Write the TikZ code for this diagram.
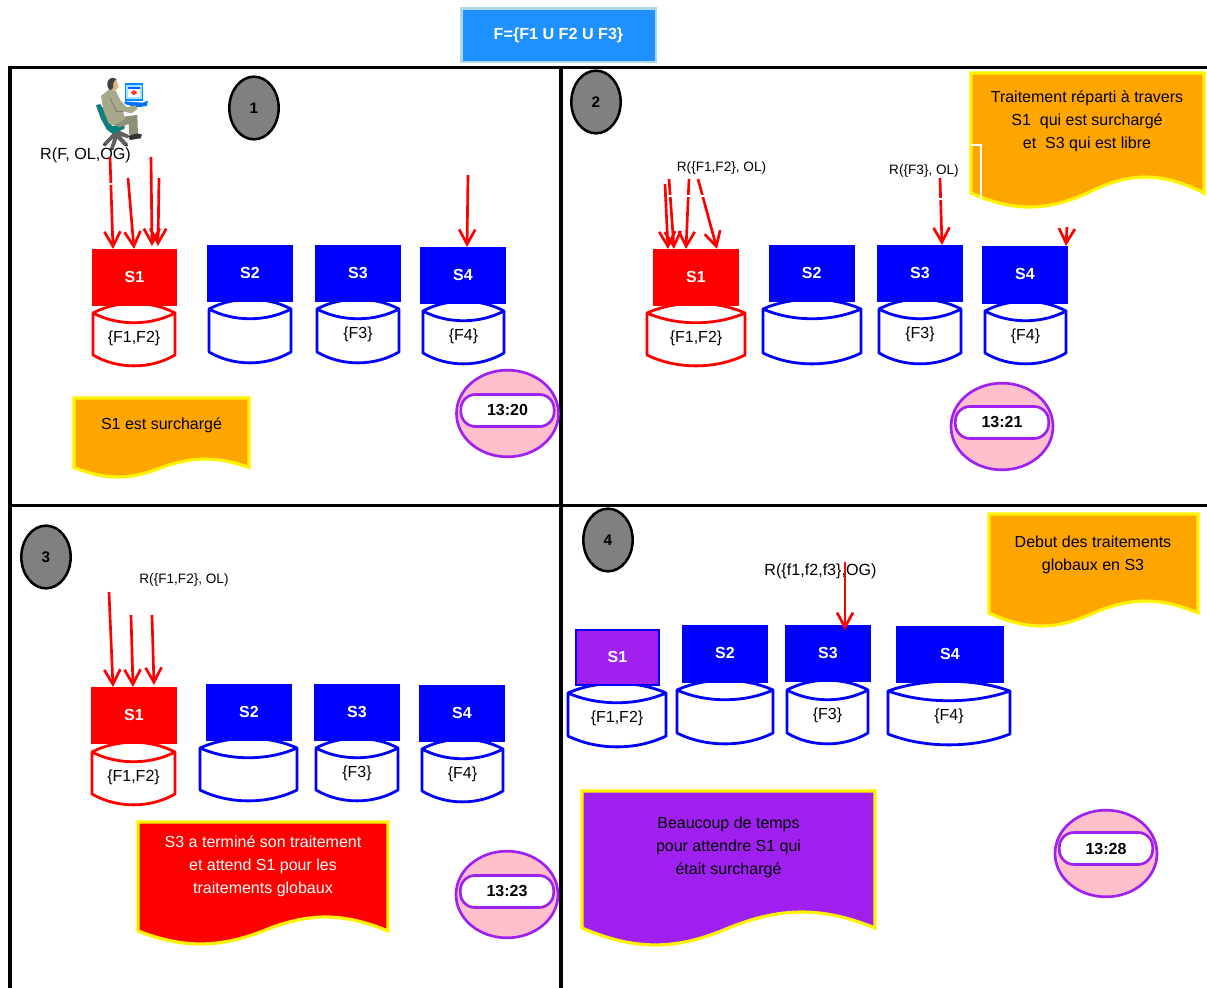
\documentclass[tikz,border=0pt]{standalone}
\usepackage{fontspec}
\setmainfont{Liberation Sans}
\usetikzlibrary{arrows.meta,calc,shapes.geometric}
\definecolor{docorange}{HTML}{FFA500}
\definecolor{docpurple}{HTML}{A020F0}
\definecolor{clockpink}{HTML}{FFC0CB}
\definecolor{topblue}{HTML}{1E90FF}
\definecolor{topedge}{HTML}{ADD8E6}
\definecolor{khaki}{HTML}{A8A88A}
\definecolor{chairteal}{HTML}{0F7F7A}
\tikzset{
  framel/.style={line width=2.3pt,black},
  srvbox/.style={rectangle,inner sep=0pt,outer sep=0pt,text=white,font=\fontsize{12}{14}\selectfont\bfseries},
  cylline/.style={line width=2.1pt,fill=white,line join=round},
  cyltext/.style={inner sep=0pt,font=\fontsize{12}{14}\selectfont},
  redarr/.style={draw=red,line width=2pt,-{Straight Barb[length=11pt,width=12pt,line width=2pt]}},
  docshape/.style={draw=yellow,line width=2.4pt,line join=miter},
  doctext/.style={inner sep=0pt,align=center,font=\fontsize{12}{17.3}\selectfont},
  badge/.style={ellipse,draw=black,fill=gray,line width=1.9pt,inner sep=0pt,outer sep=0pt,font=\fontsize{11.5}{13}\selectfont\bfseries},
  clockface/.style={ellipse,draw=docpurple,fill=clockpink,line width=2pt,inner sep=0pt,outer sep=0pt},
  clockpill/.style={rectangle,rounded corners=11pt,draw=docpurple,fill=white,line width=2pt,inner sep=0pt,outer sep=0pt,font=\fontsize{12}{14}\selectfont\bfseries},
  smalllabel/.style={inner sep=0pt,font=\fontsize{10.2}{12}\selectfont},
  biglabel/.style={inner sep=0pt,font=\fontsize{12.1}{14}\selectfont},
}
% name, x1, y1, x2, y2, fill
\newcommand{\SrvBox}[7][]{%
  \node[srvbox,fill=#7,minimum width={(#5-#3)*0.75pt},minimum height={(#6-#4)*0.75pt},#1] (#2) at ({(#3+#5)/2},{(#4+#6)/2}) {\raisebox{1pt}{\CurLabel}};}
% name, x1, x2, ytop, ybot, colour, text
\newcommand{\CylDraw}[7]{%
  \draw[cylline,draw=#6] (#2,#4)
    .. controls ({#2+0.3*(#3-#2)},{#4+13}) and ({#3-0.3*(#3-#2)},{#4+13}) .. (#3,#4)
    .. controls ({#3-0.3*(#3-#2)},{#4-13}) and ({#2+0.3*(#3-#2)},{#4-13}) .. (#2,#4)
    -- (#2,#5)
    .. controls ({#2+0.3*(#3-#2)},{#5+14.5}) and ({#3-0.3*(#3-#2)},{#5+14.5}) .. (#3,#5)
    -- (#3,#4);
  \node[cyltext] (#1) at ({(#2+#3)/2},{#4+25.5}) {#7};}
% x1, x2, ytop, ybot, trough, crest, fill
\newcommand{\DocDraw}[7]{%
  \draw[docshape,fill=#7] (#1,#3) -- (#2,#3) -- (#2,#4)
    .. controls ({#2-0.18*(#2-#1)},{#4+1.33*(#6-#4)}) and ({#2-0.32*(#2-#1)},{#4+1.33*(#6-#4)}) .. ({(#1+#2)/2},{#4})
    .. controls ({#1+0.32*(#2-#1)},{#4+1.33*(#5-#4)}) and ({#1+0.18*(#2-#1)},{#4+1.33*(#5-#4)}) .. (#1,#4) -- cycle;}
% name, cx, cy, pilly, time
\newcommand{\ClockDraw}[5]{%
  \node[clockface,minimum width=76.5pt,minimum height=65pt] (#1f) at (#2,#3) {};
  \node[clockpill,minimum width=70pt,minimum height=24pt] (#1p) at (#2,#4) {#5};}
\newcommand{\GapMark}[2]{\fill[white] ({#1-4},#2) rectangle ({#1+4},{#2+1.6});}
\begin{document}
\begin{tikzpicture}[x=0.75pt,y=-0.75pt]
\useasboundingbox (0,0) rectangle (1207,988);
\fill[white] (0,0) rectangle (1207,988);

% frame
\draw[framel] (10,988) -- (10,67.5) -- (1207,67.5);
\draw[framel] (561,67.5) -- (561,988);
\draw[framel] (10,505.2) -- (1207,505.2);

% title
\node[rectangle,draw=topedge,fill=topblue,line width=2pt,minimum width=146pt,minimum height=40pt,inner sep=0pt,text=white,font=\fontsize{12.1}{14}\selectfont\bfseries] (title) at (558.5,35.5) {\raisebox{1pt}{F=\{F1 U F2 U F3\}}};

% ---------- panel 1
\node[badge,minimum width=37pt,minimum height=47pt] (b1) at (254,108) {1};
% person
\begin{scope}[shift={(90,70)},x=0.25pt,y=-0.25pt]
  % chair base
  \fill[gray!75!black] (72,186) -- (40,220) -- (46,230) -- (70,204) -- (60,236) -- (70,240) -- (82,206) -- (105,230) -- (114,222) -- (92,198) -- (114,205) -- (116,195) -- (88,182) -- cycle;
  \fill[black!80] (42,224) circle (4) (65,238) circle (4) (110,226) circle (4);
  % chair back and seat
  \fill[chairteal] (18,106) -- (30,102) -- (50,130) -- (66,168) -- (104,162) -- (104,176) -- (68,192) -- (50,178) -- (32,145) -- cycle;
  % screen
  \fill[blue!45!cyan] (104,38) -- (160,38) -- (160,92) -- (104,92) -- cycle;
  \fill[cyan!35] (108,44) -- (155,44) -- (155,87) -- (108,87) -- cycle;
  \fill[white] (113,50) -- (151,50) -- (151,82) -- (113,82) -- cycle;
  \fill[blue!60!cyan] (113,50) -- (151,50) -- (151,58) -- (113,58) -- cycle;
  \fill[red!80] (122,68) -- (132,60) -- (142,68) -- (132,76) -- cycle;
  \fill[blue!55!cyan] (104,94) -- (158,98) -- (174,92) -- (170,108) -- (140,112) -- (104,102) -- cycle;
  % legs and shoe
  \fill[khaki!85!black] (68,160) -- (100,140) -- (142,135) -- (144,196) -- (118,196) -- (116,162) -- (88,172) -- cycle;
  \fill[black!80] (114,198) -- (142,190) -- (156,194) -- (152,205) -- (120,210) -- cycle;
  % torso and arm
  \fill[khaki] (33,78) -- (60,56) -- (78,64) -- (92,92) -- (110,112) -- (136,106) -- (142,118) -- (124,130) -- (100,124) -- (104,148) -- (70,166) -- (56,160) -- (40,120) -- cycle;
  \draw[black!60,line width=0.35pt] (60,85) -- (80,125) -- (100,124);
  % head
  \fill[khaki!50!orange!70!white] (60,42) -- (78,28) -- (86,48) -- (78,62) -- (62,62) -- cycle;
  \fill[black!75] (52,45) .. controls (50,25) and (68,18) .. (80,28) .. controls (70,32) and (68,42) .. (70,52) .. controls (64,66) and (54,60) .. (52,45) -- cycle;
\end{scope}
\node[biglabel] (l1) at (85.5,155) {R(F, OL,OG)};
\CylDraw{p1c1}{93}{175}{313}{355}{red}{\{F1,F2\}}
\CylDraw{p1c2}{209}{291}{309}{352}{blue}{}
\CylDraw{p1c3}{317}{399}{309}{352}{blue}{\{F3\}}
\CylDraw{p1c4}{423}{504}{311}{353}{blue}{\{F4\}}
\def\CurLabel{S1}\SrvBox{p1s1}{92}{249}{177}{305.5}{red}
\def\CurLabel{S2}\SrvBox{p1s2}{207}{245}{293}{302}{blue}
\def\CurLabel{S3}\SrvBox{p1s3}{315}{245}{401}{302}{blue}
\def\CurLabel{S4}\SrvBox{p1s4}{420}{247}{506}{303.5}{blue}
\coordinate (p1a) at (110,157);
\coordinate (p1b) at (128,178);
\coordinate (p1c) at (151,157);
\coordinate (p1d) at (159,178);
\coordinate (p1e) at (468,175);
\draw[redarr] (p1a) -- ($(p1s1.north west)+(21,0)$);
\draw[redarr] (p1b) -- ($(p1s1.north west)+(42,0)$);
\draw[redarr] (p1c) -- ($(p1s1.north west)+(60,-3)$);
\draw[redarr] (p1d) -- ($(p1s1.north west)+(66,-3)$);
\draw[redarr] (p1e) -- ($(p1s4.north west)+(47,0)$);
\GapMark{111}{183}
\DocDraw{74}{249}{398}{467.5}{477}{459}{docorange}
\node[doctext] (t1) at (161.5,425.5) {S1 est surchargé};
\ClockDraw{c1}{507.5}{413.5}{410.5}{\raisebox{1pt}{13:20}}

% ---------- panel 2
\node[badge,minimum width=37pt,minimum height=47pt] (b2) at (596,102) {2};
\DocDraw{971}{1204}{73}{193}{207}{177}{docorange}
\draw[white,line width=1.1pt] (971,145) -- (981,145) -- (981,198);
\node[doctext] (t2) at (1087,121.5) {Traitement réparti à travers\\S1~~qui est surchargé\\et~~S3 qui est libre};
\node[smalllabel] (l2a) at (721.5,168) {R(\{F1,F2\}, OL)};
\node[smalllabel] (l2b) at (924,171) {R(\{F3\}, OL)};
\CylDraw{p2c1}{647}{745}{313}{355}{red}{\{F1,F2\}}
\CylDraw{p2c2}{763}{861}{309}{353}{blue}{}
\CylDraw{p2c3}{879}{961}{309}{353}{blue}{\{F3\}}
\CylDraw{p2c4}{985}{1066}{311}{353}{blue}{\{F4\}}
\def\CurLabel{S1}\SrvBox{p2s1}{653}{249}{739}{306}{red}
\def\CurLabel{S2}\SrvBox{p2s2}{768.5}{245}{855}{302}{blue}
\def\CurLabel{S3}\SrvBox{p2s3}{877}{245}{963}{302}{blue}
\def\CurLabel{S4}\SrvBox{p2s4}{982}{246}{1068}{303.5}{blue}
\coordinate (p2a) at (665,184);
\coordinate (p2b) at (669,179);
\coordinate (p2c) at (689,179);
\coordinate (p2d) at (698,179);
\coordinate (p2e) at (940,178);
\coordinate (p2f) at (1067,227);
\draw[redarr] (p2a) -- ($(p2s1.north west)+(15,0)$);
\draw[redarr] (p2b) -- ($(p2s1.north west)+(21,0)$);
\draw[redarr] (p2c) -- ($(p2s1.north west)+(33,0)$);
\draw[redarr] (p2d) -- ($(p2s1.north west)+(64,0)$);
\draw[redarr] (p2e) -- ($(p2s3.north west)+(65,0)$);
\draw[redarr] (p2f) -- ($(p2s4.north west)+(84,0)$);
\GapMark{671}{195}\GapMark{688}{195}\GapMark{702}{195}\GapMark{940}{198}
\ClockDraw{c2}{1002}{426.5}{422.5}{13:21}

% ---------- panel 3
\node[badge,minimum width=37pt,minimum height=47pt] (b3) at (46,557) {3};
\node[smalllabel] (l3) at (184,580) {R(\{F1,F2\}, OL)};
\CylDraw{p3c1}{92}{175}{752}{794}{red}{\{F1,F2\}}
\CylDraw{p3c2}{200}{297}{748}{790}{blue}{}
\CylDraw{p3c3}{316}{398}{748}{790}{blue}{\{F3\}}
\CylDraw{p3c4}{422}{503}{749}{791}{blue}{\{F4\}}
\def\CurLabel{S1}\SrvBox{p3s1}{91}{687}{177}{744}{red}
\def\CurLabel{S2}\SrvBox{p3s2}{206}{684}{292}{741}{blue}
\def\CurLabel{S3}\SrvBox{p3s3}{314}{684}{400}{741}{blue}
\def\CurLabel{S4}\SrvBox{p3s4}{419}{685}{505}{742}{blue}
\coordinate (p3a) at (109,592);
\coordinate (p3b) at (131,615);
\coordinate (p3c) at (152,615);
\draw[redarr] (p3a) -- ($(p3s1.north west)+(22,0)$);
\draw[redarr] (p3b) -- ($(p3s1.north west)+(42,0)$);
\draw[redarr] (p3c) -- ($(p3s1.north west)+(63,-2)$);
\DocDraw{138}{388}{822}{931}{944}{917}{red}
\node[doctext,text=white] (t3) at (263,866.5) {S3 a terminé son traitement\\et attend S1 pour les\\traitements globaux};
\ClockDraw{c3}{507}{894.5}{891.5}{\raisebox{1pt}{13:23}}

% ---------- panel 4
\node[badge,minimum width=37pt,minimum height=47pt] (b4) at (608,540) {4};
\node[biglabel] (l4) at (820.5,571) {R(\{f1,f2,f3\},OG)};
\DocDraw{989}{1198}{514}{613}{626}{601}{docorange}
\node[doctext] (t4) at (1093,555) {Debut des traitements\\globaux en S3};
\CylDraw{p4c1}{568}{666}{693}{736}{blue}{\{F1,F2\}}
\CylDraw{p4c2}{677}{773}{690}{733}{blue}{}
\CylDraw{p4c3}{787}{868}{690}{733}{blue}{\{F3\}}
\CylDraw{p4c4}{888}{1010}{691}{734}{blue}{\{F4\}}
\def\CurLabel{S1}\SrvBox[draw=blue,line width=1.8pt]{p4s1}{576}{630}{659}{685}{docpurple}
\def\CurLabel{S2}\SrvBox{p4s2}{682}{625}{768}{683}{blue}
\def\CurLabel{S3}\SrvBox{p4s3}{785}{625}{871}{682}{blue}
\def\CurLabel{S4}\SrvBox{p4s4}{896}{626}{1004}{683}{blue}
\coordinate (p4a) at (845,562);
\draw[redarr] (p4a) -- ($(p4s3.north west)+(60,5)$);
\DocDraw{582}{875}{791}{928}{945}{912}{docpurple}
\node[doctext] (t5) at (728.5,847.5) {Beaucoup de temps\\pour attendre S1 qui\\était surchargé};
\ClockDraw{c4}{1106}{853.5}{848.5}{13:28}
\end{tikzpicture}
\end{document}
